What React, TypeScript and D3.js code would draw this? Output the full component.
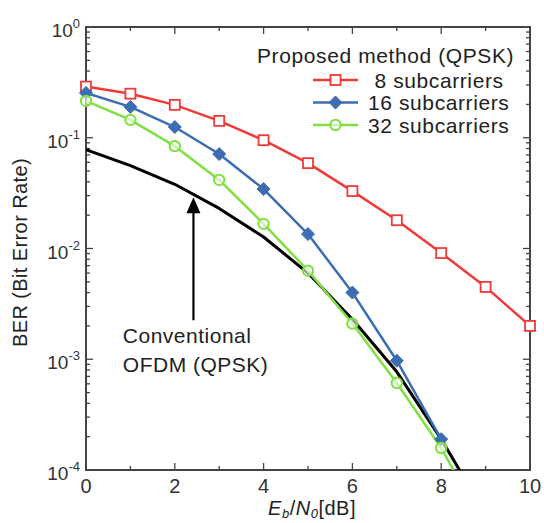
import React from 'react';
import * as d3 from 'd3';

// Eb/N0 [dB]
const snr = [0, 1, 2, 3, 4, 5, 6, 7, 8, 9, 10];

// BER (values below 1e-4 continue off the bottom edge)
const ber8 = [0.29, 0.25, 0.198, 0.142, 0.095, 0.059, 0.033, 0.018, 0.0091, 0.0045, 0.002];
const ber16 = [0.254, 0.19, 0.125, 0.0713, 0.0344, 0.0135, 0.004, 0.00097, 0.00019];
const ber32 = [0.215, 0.145, 0.084, 0.0416, 0.0167, 0.0063, 0.0021, 0.00061, 0.000158, 0.00003];
const berOfdm = [0.078, 0.056, 0.038, 0.023, 0.0127, 0.006, 0.0023, 0.00077, 0.00019, 0.00004];

const xTickLabels = [0, 2, 4, 6, 8, 10];
const xMinorTicks = [1, 3, 5, 7, 9];
const yTickValues = [1, 0.1, 0.01, 0.001, 0.0001];
const yTickExponents = ['0', '-1', '-2', '-3', '-4'];

const legendTitle = 'Proposed method (QPSK)';
const seriesNames = [' 8 subcarriers', '16 subcarriers', '32 subcarriers'];
const annotationLines = ['Conventional', 'OFDM (QPSK)'];

const FONT = '"Liberation Sans", Arial, sans-serif';

type Series = { name: string; values: number[]; color: string; marker: string };

const series: Series[] = [
  { name: seriesNames[0], values: ber8, color: '#f03a3a', marker: 'square' },
  { name: seriesNames[1], values: ber16, color: '#3c6db3', marker: 'diamond' },
  { name: seriesNames[2], values: ber32, color: '#80e040', marker: 'circle' },
];

function Marker({ type, x, y, color }: { type: string; x: number; y: number; color: string }) {
  if (type === 'square') {
    return <rect x={x - 5} y={y - 5} width={10} height={10} fill="white" stroke={color} strokeWidth={1.8} />;
  }
  if (type === 'diamond') {
    return (
      <path
        d={`M${x},${y - 6.5}L${x + 6.5},${y}L${x},${y + 6.5}L${x - 6.5},${y}Z`}
        fill={color}
        stroke={color}
        strokeWidth={1}
      />
    );
  }
  return <circle cx={x} cy={y} r={5.2} fill="white" fillOpacity={0.6} stroke={color} strokeWidth={2} />;
}

export default function App() {
  const width = 544;
  const height = 523;
  const left = 86, right = 530, top = 27, bottom = 470;

  const x = d3.scaleLinear().domain([0, 10]).range([left, right]);
  const y = d3.scaleLog().domain([1e-4, 1]).range([bottom, top]);

  const line = d3.line<number>()
    .x((_, i) => x(snr[i]))
    .y(d => y(d));

  const yMinor: number[] = [];
  for (let e = -4; e < 0; e++) {
    for (let k = 2; k <= 9; k++) yMinor.push(k * Math.pow(10, e));
  }

  // arrow annotation (data coordinates)
  const arrowX = x(2.42);
  const arrowTip = y(0.029);
  const arrowTail = y(0.00225);

  const axisColor = '#444';

  return (
    <svg width={width} height={height} style={{ position: 'absolute', left: 0, top: 0, background: 'white' }}>
      <defs>
        <clipPath id="plot-clip">
          <rect x={left} y={top} width={right - left} height={bottom - top} />
        </clipPath>
      </defs>

      {/* ticks */}
      <g stroke={axisColor} strokeWidth={1.3}>
        {xTickLabels.map(t => (
          <g key={'xt' + t}>
            <line x1={x(t)} x2={x(t)} y1={bottom} y2={bottom - 7} />
            <line x1={x(t)} x2={x(t)} y1={top} y2={top + 7} />
          </g>
        ))}
        {xMinorTicks.map(t => (
          <g key={'xm' + t}>
            <line x1={x(t)} x2={x(t)} y1={bottom} y2={bottom - 4} />
            <line x1={x(t)} x2={x(t)} y1={top} y2={top + 4} />
          </g>
        ))}
        {yTickValues.map(t => (
          <g key={'yt' + t}>
            <line x1={left} x2={left + 7} y1={y(t)} y2={y(t)} />
            <line x1={right} x2={right - 7} y1={y(t)} y2={y(t)} />
          </g>
        ))}
        {yMinor.map(t => (
          <g key={'ym' + t}>
            <line x1={left} x2={left + 4} y1={y(t)} y2={y(t)} />
            <line x1={right} x2={right - 4} y1={y(t)} y2={y(t)} />
          </g>
        ))}
      </g>

      {/* frame */}
      <rect x={left} y={top} width={right - left} height={bottom - top} fill="none" stroke={axisColor} strokeWidth={2} />

      {/* curves */}
      <g clipPath="url(#plot-clip)" fill="none" strokeLinejoin="round">
        <path d={line(berOfdm) || ''} stroke="#000" strokeWidth={3} />
        {series.map(s => (
          <path key={s.name} d={line(s.values) || ''} stroke={s.color} strokeWidth={2.5} />
        ))}
      </g>
      {series.map(s => (
        <g key={'m' + s.name}>
          {s.values.map((v, i) =>
            v >= 1e-4 ? <Marker key={i} type={s.marker} x={x(snr[i])} y={y(v)} color={s.color} /> : null
          )}
        </g>
      ))}

      {/* arrow annotation */}
      <line x1={arrowX} x2={arrowX} y1={arrowTail} y2={arrowTip + 12} stroke="#000" strokeWidth={2.2} />
      <path d={`M${arrowX},${arrowTip}L${arrowX + 7},${arrowTip + 16}L${arrowX - 7},${arrowTip + 16}Z`} fill="#000" />
      <g fontFamily={FONT} fontSize={21} fill="#222" letterSpacing={0.5}>
        {annotationLines.map((t, i) => (
          <text key={t} x={x(0.83)} y={343 + i * 29}>{t}</text>
        ))}
      </g>

      {/* legend */}
      <g fontFamily={FONT} fontSize={21} fill="#222" letterSpacing={0.6}>
        <text x={257} y={63}>{legendTitle}</text>
        {series.map((s, i) => {
          const ly = 80 + i * 22.5;
          return (
            <g key={'lg' + s.name}>
              <line x1={313} x2={358} y1={ly} y2={ly} stroke={s.color} strokeWidth={2.5} />
              <Marker type={s.marker} x={335.5} y={ly} color={s.color} />
              <text x={368} y={ly} dy="0.36em" style={{ whiteSpace: 'pre' }}>{s.name}</text>
            </g>
          );
        })}
      </g>

      {/* y tick labels */}
      <g fontFamily={FONT} fill="#333">
        {yTickValues.map((t, i) => (
          <text key={'yl' + t} x={80} y={y(t) + 10} textAnchor="end" fontSize={19}>
            10<tspan fontSize={13} dy={-9}>{yTickExponents[i]}</tspan>
          </text>
        ))}
      </g>

      {/* x tick labels */}
      <g fontFamily={FONT} fill="#333" fontSize={20}>
        {xTickLabels.map(t => (
          <text key={'xl' + t} x={x(t)} y={493} textAnchor="middle">{t}</text>
        ))}
      </g>

      {/* axis titles */}
      <text
        fontFamily={FONT}
        fontSize={20}
        fill="#222"
        textAnchor="middle"
        letterSpacing={0.4}
        transform={`translate(27, ${(top + bottom) / 2 + 4}) rotate(-90)`}
      >
        BER (Bit Error Rate)
      </text>
      <text fontFamily={FONT} fontSize={20} fill="#222" x={(left + right) / 2 + 4} y={515} textAnchor="middle" letterSpacing={0.5}>
        <tspan fontStyle="italic">E</tspan>
        <tspan fontStyle="italic" fontSize={13} dy={3}>b</tspan>
        <tspan dy={-3}>/</tspan>
        <tspan fontStyle="italic">N</tspan>
        <tspan fontStyle="italic" fontSize={13} dy={3}>0</tspan>
        <tspan dy={-3}>[dB]</tspan>
      </text>
    </svg>
  );
}
